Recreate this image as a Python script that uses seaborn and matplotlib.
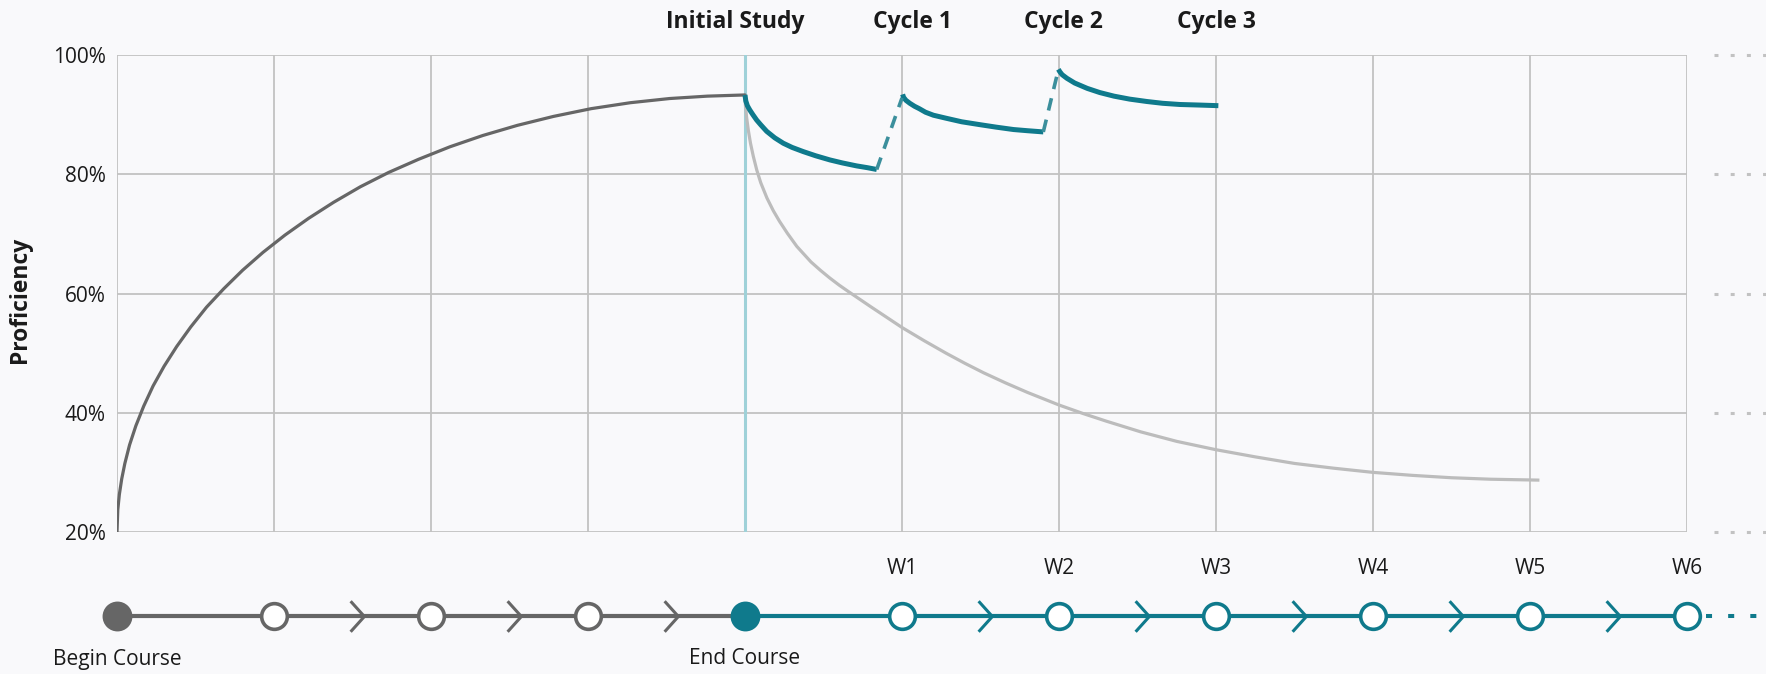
import matplotlib as mpl

mpl.use('Agg')
import matplotlib.pyplot as plt
from matplotlib.path import Path
import seaborn as sns

# learning phase: week of course vs proficiency (%)
learn_x = [0, 0.005, 0.015, 0.03, 0.05, 0.08, 0.12, 0.17, 0.23, 0.3, 0.38,
           0.47, 0.57, 0.68, 0.8, 0.93, 1.07, 1.22, 1.38, 1.55, 1.73, 1.92,
           2.12, 2.33, 2.55, 2.78, 3.02, 3.27, 3.52, 3.76, 4.0]
learn_y = [20, 23.7, 26.3, 28.9, 31.5, 34.6, 37.8, 41.1, 44.5, 47.8, 51.1,
           54.4, 57.7, 60.8, 63.9, 66.9, 69.8, 72.6, 75.3, 77.9, 80.3, 82.5,
           84.6, 86.5, 88.2, 89.7, 91.0, 92.0, 92.7, 93.1, 93.3]

# forgetting without review
forget_x = [4.0, 4.003, 4.01, 4.021, 4.035, 4.053, 4.075, 4.1, 4.14, 4.18,
            4.22, 4.27, 4.33, 4.42, 4.48, 4.54, 4.6, 4.66, 4.8, 5.0, 5.14,
            5.28, 5.4, 5.52, 5.66, 5.8, 6.0, 6.15, 6.3, 6.52, 6.75, 7.0, 7.25,
            7.5, 7.75, 8.0, 8.25, 8.5, 8.75, 9.06]
forget_y = [93.3, 91.5, 89.6, 87.4, 85.2, 83.0, 80.7, 78.6, 76.0, 73.9,
            72.1, 70.1, 67.9, 65.3, 63.9, 62.6, 61.4, 60.3, 57.8, 54.3, 52.1,
            50.0, 48.3, 46.7, 45.0, 43.4, 41.3, 39.9, 38.6, 36.8, 35.2, 33.8,
            32.6, 31.5, 30.7, 30.0, 29.5, 29.1, 28.85, 28.7]

# forgetting with review cycles
cycle1_x = [4.0, 4.005, 4.015, 4.03, 4.05, 4.074, 4.1, 4.138, 4.19, 4.244,
            4.3, 4.371, 4.45, 4.541, 4.62, 4.711, 4.78, 4.839]
cycle1_y = [93.3, 92.3, 91.5, 90.8, 90.0, 89.1, 88.3, 87.2, 86.1, 85.2,
            84.5, 83.8, 83.1, 82.4, 81.9, 81.4, 81.1, 80.8]
cycle2_x = [5.004, 5.01, 5.025, 5.05, 5.08, 5.11, 5.15, 5.2, 5.28, 5.38,
            5.5, 5.6, 5.71, 5.8, 5.9]
cycle2_y = [93.4, 92.9, 92.4, 91.9, 91.4, 91.0, 90.4, 89.9, 89.4, 88.8,
            88.3, 87.9, 87.5, 87.3, 87.1]
cycle3_x = [5.996, 6.005, 6.02, 6.05, 6.1, 6.18, 6.26, 6.35, 6.45, 6.56,
            6.66, 6.77, 6.9, 7.015]
cycle3_y = [97.6, 97.2, 96.7, 96.1, 95.3, 94.4, 93.7, 93.1, 92.6, 92.2,
            91.9, 91.7, 91.6, 91.5]
review1_x = [4.839, 5.0]
review1_y = [80.8, 92.8]
review2_x = [5.9, 5.99]
review2_y = [87.1, 96.9]

phase_labels = ['Initial Study', 'Cycle 1', 'Cycle 2', 'Cycle 3']
phase_x = [3.94, 5.07, 6.03, 7.0]
y_ticks = [20, 40, 60, 80, 100]

# timeline
course_x = [0, 1, 2, 3, 4]
weeks_x = [4, 5, 6, 7, 8, 9, 10]
week_labels = ['W1', 'W2', 'W3', 'W4', 'W5', 'W6']

BG = '#f9f9fb'
GRID = '#c2c2c2'
DARK = '#666666'
LIGHT = '#bcbcbc'
TEAL = '#0f7a8c'
TEAL_DASH = '#3b8f9c'
TXT = '#1a1a1a'

sns.set_theme(style='white')
plt.rcParams['font.family'] = ['Open Sans', 'DejaVu Sans']

W, H = 1766, 674
fig = plt.figure(figsize=(W / 100, H / 100), dpi=100, facecolor=BG)
left, right, top, bottom = 117, 1687, 55, 532
ax = fig.add_axes([left / W, 1 - bottom / H, (right - left) / W, (bottom - top) / H])
ax.set_facecolor(BG)
ax.set_xlim(0, 10)
ax.set_ylim(20, 100)

# grid
for xv in range(11):
    ax.axvline(xv, color=GRID, lw=1.3, zorder=1)
for yv in y_ticks:
    ax.axhline(yv, color=GRID, lw=1.3, zorder=1)
    ax.plot([10.17, 10.5], [yv, yv], color=GRID, lw=2.2,
            ls=(0, (1.3, 4)), clip_on=False)
ax.axvline(4, color='#9fd1d8', lw=2.2, zorder=2)
for s in ax.spines.values():
    s.set_visible(False)

sns.lineplot(x=learn_x, y=learn_y, sort=False, estimator=None, color=DARK,
             lw=2.3, ax=ax, zorder=3)
sns.lineplot(x=forget_x, y=forget_y, sort=False, estimator=None, color=LIGHT,
             lw=2.3, ax=ax, zorder=3, solid_capstyle='butt')
for cx, cy in [(cycle1_x, cycle1_y), (cycle2_x, cycle2_y), (cycle3_x, cycle3_y)]:
    sns.lineplot(x=cx, y=cy, sort=False, estimator=None, color=TEAL,
                 lw=3.6, ax=ax, zorder=4, solid_capstyle='butt')
for rx, ry in [(review1_x, review1_y), (review2_x, review2_y)]:
    sns.lineplot(x=rx, y=ry, sort=False, estimator=None, color=TEAL_DASH,
                 lw=2.6, ax=ax, zorder=4, linestyle=(0, (3.5, 2.6)))

ax.set_xticks([])
ax.set_yticks(y_ticks)
ax.set_yticklabels([f'{v}%' for v in y_ticks], fontsize=15, color=TXT)
ax.tick_params(axis='y', length=0, pad=8)
ax.set_xlabel('')
ax.set_ylabel('')

for lab, px in zip(phase_labels, phase_x):
    ax.text(px, 1 + (top - 22) / (bottom - top), lab, transform=ax.get_xaxis_transform(),
            ha='center', va='center', fontsize=16.5, fontweight='bold', color=TXT)

fig.text(20 / W, 1 - 300 / H, 'Proficiency', rotation=90, ha='center', va='center',
         fontsize=16.5, fontweight='bold', color=TXT)

# timeline axis
ax2 = fig.add_axes([left / W, 0, (right - left) / W, (H - bottom) / H])
ax2.set_xlim(0, 10)
ax2.set_ylim(0, H - bottom)
ax2.axis('off')
ty = H - 616
ax2.plot(course_x, [ty] * len(course_x), color=DARK, lw=3, zorder=1)
ax2.plot(weeks_x, [ty] * len(weeks_x), color=TEAL, lw=3, zorder=1)
ax2.plot([10.12, 10.5], [ty, ty], color=TEAL, lw=2.9, ls=(0, (1.5, 4)), clip_on=False)

chevron = Path([(-0.45, 1), (0.45, 0), (-0.45, -1)],
               [Path.MOVETO, Path.LINETO, Path.LINETO])
ax2.plot([i + 0.53 for i in course_x[1:4]], [ty] * 3, ls='', marker=chevron,
         ms=22, mfc='none', mec=DARK, mew=2.2)
ax2.plot([i + 0.53 for i in weeks_x[1:6]], [ty] * 5, ls='', marker=chevron,
         ms=22, mfc='none', mec=TEAL, mew=2.2)

ax2.plot([0], [ty], 'o', ms=19, mfc=DARK, mec=DARK, mew=2.5, clip_on=False, zorder=3)
ax2.plot(course_x[1:4], [ty] * 3, 'o', ms=18.5, mfc='white', mec=DARK, mew=2.6,
         zorder=3)
ax2.plot([4], [ty], 'o', ms=19, mfc=TEAL, mec=TEAL, mew=2.5, zorder=3)
ax2.plot(weeks_x[1:], [ty] * 6, 'o', ms=18.5, mfc='white', mec=TEAL, mew=2.6,
         zorder=3, clip_on=False)

ax2.text(0, H - 659, 'Begin Course', ha='center', va='center', fontsize=15, color=TXT)
ax2.text(4, H - 659, 'End Course', ha='center', va='center', fontsize=15, color=TXT)
for lab, wx in zip(week_labels, weeks_x[1:]):
    ax2.text(wx, H - 569, lab, ha='center', va='center', fontsize=15, color=TXT)

fig.savefig('out.png', dpi=100, facecolor=BG)
